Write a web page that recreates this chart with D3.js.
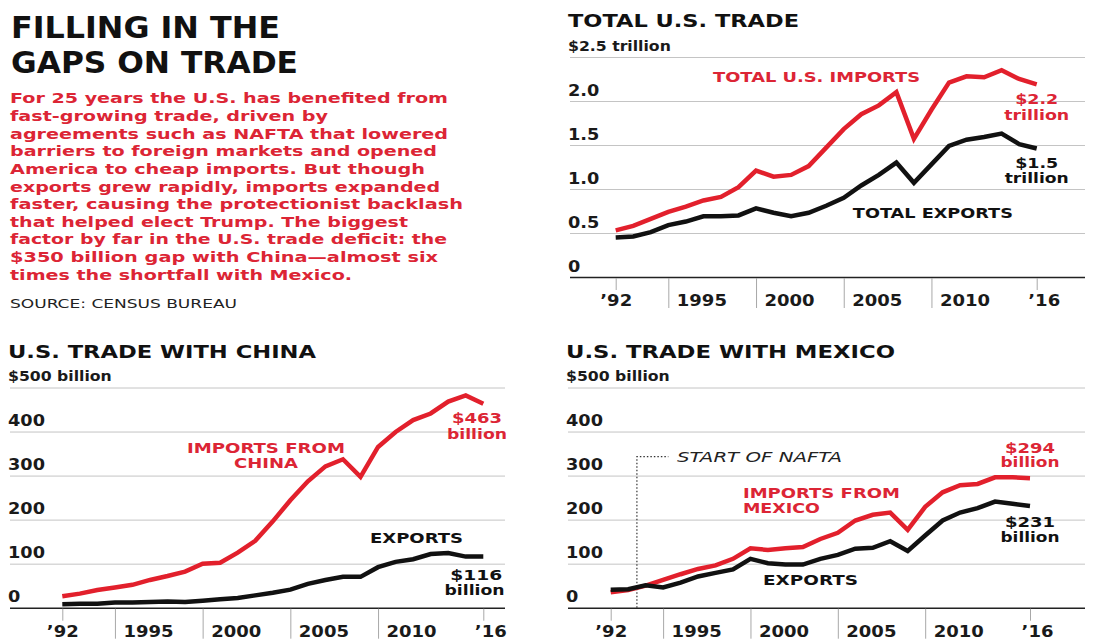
<!DOCTYPE html>
<html>
<head>
<meta charset="utf-8">
<script src="https://cdn.jsdelivr.net/npm/d3@7"></script>
<style>
  body { margin: 0; background: #fff; }
  svg text { font-family: "DejaVu Sans", sans-serif; }
</style>
</head>
<body>
<svg id="chart" width="1093" height="641"></svg>
<script>
// ---- Data (annual goods trade, 1992–2016) ----
const years = [1992, 1993, 1994, 1995, 1996, 1997, 1998, 1999, 2000, 2001, 2002, 2003,
               2004, 2005, 2006, 2007, 2008, 2009, 2010, 2011, 2012, 2013, 2014, 2015, 2016];

// $ trillions
const totalImports = [0.53, 0.58, 0.66, 0.74, 0.80, 0.87, 0.91, 1.02, 1.21, 1.14, 1.16, 1.26,
                      1.47, 1.68, 1.85, 1.95, 2.10, 1.57, 1.90, 2.21, 2.28, 2.27, 2.35, 2.25, 2.19];
const totalExports = [0.45, 0.46, 0.51, 0.59, 0.63, 0.69, 0.69, 0.70, 0.78, 0.73, 0.69, 0.73,
                      0.81, 0.90, 1.04, 1.16, 1.30, 1.07, 1.28, 1.49, 1.56, 1.59, 1.63, 1.51, 1.46];

// $ billions
const chinaImports = [26, 32, 40, 46, 52, 63, 72, 82, 100, 102, 125, 152,
                      196, 244, 287, 321, 337, 297, 365, 399, 426, 441, 468, 482, 463];
const chinaExports = [8, 9, 9, 12, 12, 13, 14, 13, 16, 19, 22, 28,
                      34, 41, 54, 63, 70, 70, 92, 104, 110, 122, 124, 116, 116];

const mexicoImports = [35, 40, 50, 63, 76, 88, 96, 111, 135, 131, 135, 138,
                       156, 170, 198, 211, 216, 177, 229, 262, 278, 281, 296, 296, 294];
const mexicoExports = [41, 42, 51, 46, 57, 71, 79, 87, 111, 101, 98, 98,
                       111, 120, 134, 136, 151, 129, 164, 198, 216, 226, 241, 236, 231];

const xTickYears = [1992, 1995, 2000, 2005, 2010, 2016];
const totalTicks = [0, 0.5, 1.0, 1.5, 2.0, 2.5];
const billionTicks = [0, 100, 200, 300, 400, 500];
const naftaStart = 1993.5;

const titleLines = ["FILLING IN THE", "GAPS ON TRADE"];
const bodyLines = [
  "For 25 years the U.S. has benefited from",
  "fast-growing trade, driven by",
  "agreements such as NAFTA that lowered",
  "barriers to foreign markets and opened",
  "America to cheap imports. But though",
  "exports grew rapidly, imports expanded",
  "faster, causing the protectionist backlash",
  "that helped elect Trump. The biggest",
  "factor by far in the U.S. trade deficit: the",
  "$350 billion gap with China\u2014almost six",
  "times the shortfall with Mexico."
];
const sourceText = "SOURCE: CENSUS BUREAU";

// ---- Styling / layout ----
const RED = "#e2202c";
const RED_TEXT = "#dc2535";
const INK = "#111";
const bodyWidths = [438, 318, 438, 427, 415, 430, 453, 398, 437, 428, 342];

const svg = d3.select("#chart");

// stretch a text node horizontally to a given width
function fitTo(sel, w) {
  sel.attr("textLength", w).attr("lengthAdjust", "spacingAndGlyphs");
  return sel;
}
function widen(sel, k) {
  sel.each(function () {
    const n = this.getComputedTextLength();
    d3.select(this).attr("textLength", n * k).attr("lengthAdjust", "spacingAndGlyphs");
  });
  return sel;
}

// ---- Headline block ----
titleLines.forEach((t, i) => {
  fitTo(svg.append("text")
    .attr("x", 11).attr("y", 38 + i * 35)
    .style("font-family", "'DejaVu Sans Condensed', 'DejaVu Sans', sans-serif")
    .style("font-stretch", "condensed")
    .style("font-weight", 700).style("font-size", "30px").attr("fill", INK)
    .text(t), i === 0 ? 269 : 287);
});

bodyLines.forEach((t, i) => {
  fitTo(svg.append("text")
    .attr("x", 10).attr("y", 103.3 + i * 17.64)
    .style("font-weight", 700).style("font-size", "14.5px").attr("fill", RED_TEXT)
    .text(t), bodyWidths[i]);
});

fitTo(svg.append("text")
  .attr("x", 10).attr("y", 307.5)
  .style("font-size", "12.5px").style("font-weight", 400).attr("fill", "#222")
  .text(sourceText), 227);

// ---- Panel builder ----
function panel(cfg) {
  const x = d3.scaleLinear().domain([1992, 2016]).range([cfg.x92, cfg.x16]);
  const y = d3.scaleLinear().domain([0, cfg.max]).range([cfg.base, cfg.top]);
  const g = svg.append("g");

  // title
  fitTo(g.append("text")
    .attr("x", cfg.left - 2).attr("y", cfg.titleY)
    .style("font-weight", 700).style("font-size", "18.5px").attr("fill", INK)
    .text(cfg.title), cfg.titleW);

  // horizontal gridlines + value labels
  const yAxis = d3.axisRight(y)
    .tickValues(cfg.yTicks)
    .tickSize(cfg.right - cfg.left)
    .tickFormat(d => d === cfg.max ? cfg.unit : cfg.fmt(d));
  const ya = g.append("g").attr("transform", `translate(${cfg.left},0)`).call(yAxis);
  ya.select(".domain").remove();
  ya.selectAll(".tick line")
    .attr("stroke", d => d === 0 ? "#222" : "#c4c4c4")
    .attr("stroke-width", d => d === 0 ? 1.6 : 1);
  ya.selectAll(".tick text")
    .attr("x", -2).attr("dy", d => d === cfg.max ? -7 : -6)
    .attr("text-anchor", "start")
    .attr("fill", "#1a1a1a")
    .style("font-family", "'DejaVu Sans', sans-serif")
    .style("font-size", d => d === cfg.max ? "14px" : "15px")
    .style("font-weight", d => d === cfg.max ? 600 : 700);
  ya.selectAll(".tick text").each(function (d) {
    widen(d3.select(this), d === cfg.max ? 1.12 : 1.18);
  });

  // year ticks and labels
  const xAxis = d3.axisBottom(x)
    .tickValues(xTickYears)
    .tickFormat(d => d === 1992 ? "\u201992" : d === 2016 ? "\u201916" : String(d));
  const xa = g.append("g").attr("transform", `translate(0,${cfg.base + 1})`).call(xAxis);
  xa.select(".domain").remove();
  xa.selectAll(".tick line")
    .attr("stroke", "#a8a8a8").attr("stroke-width", 1)
    .attr("y2", d => (d === 1992 || d === 2016) ? 12 : 30);
  xa.selectAll(".tick text")
    .attr("y", 28).attr("dy", 0)
    .attr("x", d => d === 1992 ? 0 : d === 2016 ? 7 : 8)
    .attr("text-anchor", d => (d === 1992 || d === 2016) ? "middle" : "start")
    .attr("fill", "#1a1a1a")
    .style("font-family", "'DejaVu Sans', sans-serif")
    .style("font-size", "15px").style("font-weight", 700);
  widen(xa.selectAll(".tick text"), 1.2);

  // optional reference marker
  if (cfg.marker) {
    const m = cfg.marker;
    g.append("path")
      .attr("d", `M${x(m.year)},${cfg.base}V${y(m.top)}H${x(m.endYear)}`)
      .attr("fill", "none").attr("stroke", "#333").attr("stroke-width", 1.2)
      .attr("stroke-dasharray", "1.5,2");
    fitTo(g.append("text")
      .attr("x", x(m.textYear)).attr("y", y(m.textValue))
      .style("font-style", "italic").style("font-size", "14.5px").style("font-weight", 400)
      .attr("fill", "#222").text(m.text), m.width);
  }

  // series lines: imports beneath exports
  const line = d3.line().x((d, i) => x(years[i])).y(d => y(d));
  cfg.series.forEach(s => {
    g.append("path")
      .datum(s.values)
      .attr("d", line)
      .attr("fill", "none")
      .attr("stroke", s.color)
      .attr("stroke-width", 4.5)
      .attr("stroke-linejoin", "miter")
      .attr("stroke-miterlimit", 3);
  });

  // annotations
  cfg.notes.forEach(n => {
    const t = g.append("text")
      .attr("x", x(n.year)).attr("y", y(n.value))
      .attr("text-anchor", n.anchor || "start")
      .style("font-weight", 700).style("font-size", "14.5px")
      .attr("fill", n.color)
      .text(n.text);
    fitTo(t, n.width);
  });
}

const last = arr => arr[arr.length - 1];
const fmtTrillion = v => `$${d3.format(".1f")(v)}`;
const fmtBillion = v => `$${d3.format("d")(v)}`;

// ---- Total U.S. trade ----
panel({
  title: "TOTAL U.S. TRADE", titleY: 27, titleW: 231,
  left: 570, right: 1085, top: 57, base: 277, x92: 615.7, x16: 1036.7,
  max: 2.5, yTicks: totalTicks, unit: "$2.5 trillion",
  fmt: d => d === 0 ? "0" : d3.format(".1f")(d),
  series: [
    { values: totalImports, color: RED },
    { values: totalExports, color: INK }
  ],
  notes: [
    { text: "TOTAL U.S. IMPORTS", year: 1997.55, value: 2.216, color: RED_TEXT, width: 207 },
    { text: fmtTrillion(last(totalImports)), year: 2016.0, value: 1.966, anchor: "middle", color: RED_TEXT, width: 43 },
    { text: "trillion", year: 2016.0, value: 1.784, anchor: "middle", color: RED_TEXT, width: 65 },
    { text: fmtTrillion(last(totalExports)), year: 2016.0, value: 1.239, anchor: "middle", color: INK, width: 43 },
    { text: "trillion", year: 2016.0, value: 1.068, anchor: "middle", color: INK, width: 64 },
    { text: "TOTAL EXPORTS", year: 2005.52, value: 0.67, color: INK, width: 160 }
  ]
});

// ---- Trade with China ----
panel({
  title: "U.S. TRADE WITH CHINA", titleY: 358, titleW: 308,
  left: 10, right: 505, top: 387.5, base: 607.7, x92: 62.3, x16: 483.3,
  max: 500, yTicks: billionTicks, unit: "$500 billion",
  fmt: d => String(d),
  series: [
    { values: chinaImports, color: RED },
    { values: chinaExports, color: INK }
  ],
  notes: [
    { text: "IMPORTS FROM", year: 2003.61, value: 352, anchor: "middle", color: RED_TEXT, width: 158 },
    { text: "CHINA", year: 2003.61, value: 318, anchor: "middle", color: RED_TEXT, width: 64 },
    { text: fmtBillion(last(chinaImports)), year: 2015.64, value: 419.4, anchor: "middle", color: RED_TEXT, width: 50 },
    { text: "billion", year: 2015.64, value: 383, anchor: "middle", color: RED_TEXT, width: 60 },
    { text: "EXPORTS", year: 2012.19, value: 147, anchor: "middle", color: INK, width: 93 },
    { text: fmtBillion(last(chinaExports)), year: 2015.6, value: 63, anchor: "middle", color: INK, width: 52 },
    { text: "billion", year: 2015.5, value: 29, anchor: "middle", color: INK, width: 60 }
  ]
});

// ---- Trade with Mexico ----
panel({
  title: "U.S. TRADE WITH MEXICO", titleY: 358, titleW: 329,
  left: 568, right: 1085, top: 387.5, base: 607.7, x92: 610.7, x16: 1030,
  max: 500, yTicks: billionTicks, unit: "$500 billion",
  fmt: d => String(d),
  marker: { year: naftaStart, top: 343, endYear: 1995.3, text: "START OF NAFTA",
            textYear: 1995.8, textValue: 331.5, width: 165 },
  series: [
    { values: mexicoImports, color: RED },
    { values: mexicoExports, color: INK }
  ],
  notes: [
    { text: "IMPORTS FROM", year: 1999.57, value: 249, color: RED_TEXT, width: 157 },
    { text: "MEXICO", year: 1999.57, value: 215, color: RED_TEXT, width: 77 },
    { text: fmtBillion(last(mexicoImports)), year: 2016.0, value: 352, anchor: "middle", color: RED_TEXT, width: 50 },
    { text: "billion", year: 2016.0, value: 319, anchor: "middle", color: RED_TEXT, width: 59 },
    { text: fmtBillion(last(mexicoExports)), year: 2016.0, value: 184, anchor: "middle", color: INK, width: 50 },
    { text: "billion", year: 2016.0, value: 150, anchor: "middle", color: INK, width: 59 },
    { text: "EXPORTS", year: 2000.72, value: 51.5, color: INK, width: 95 }
  ]
});
</script>
</body>
</html>
